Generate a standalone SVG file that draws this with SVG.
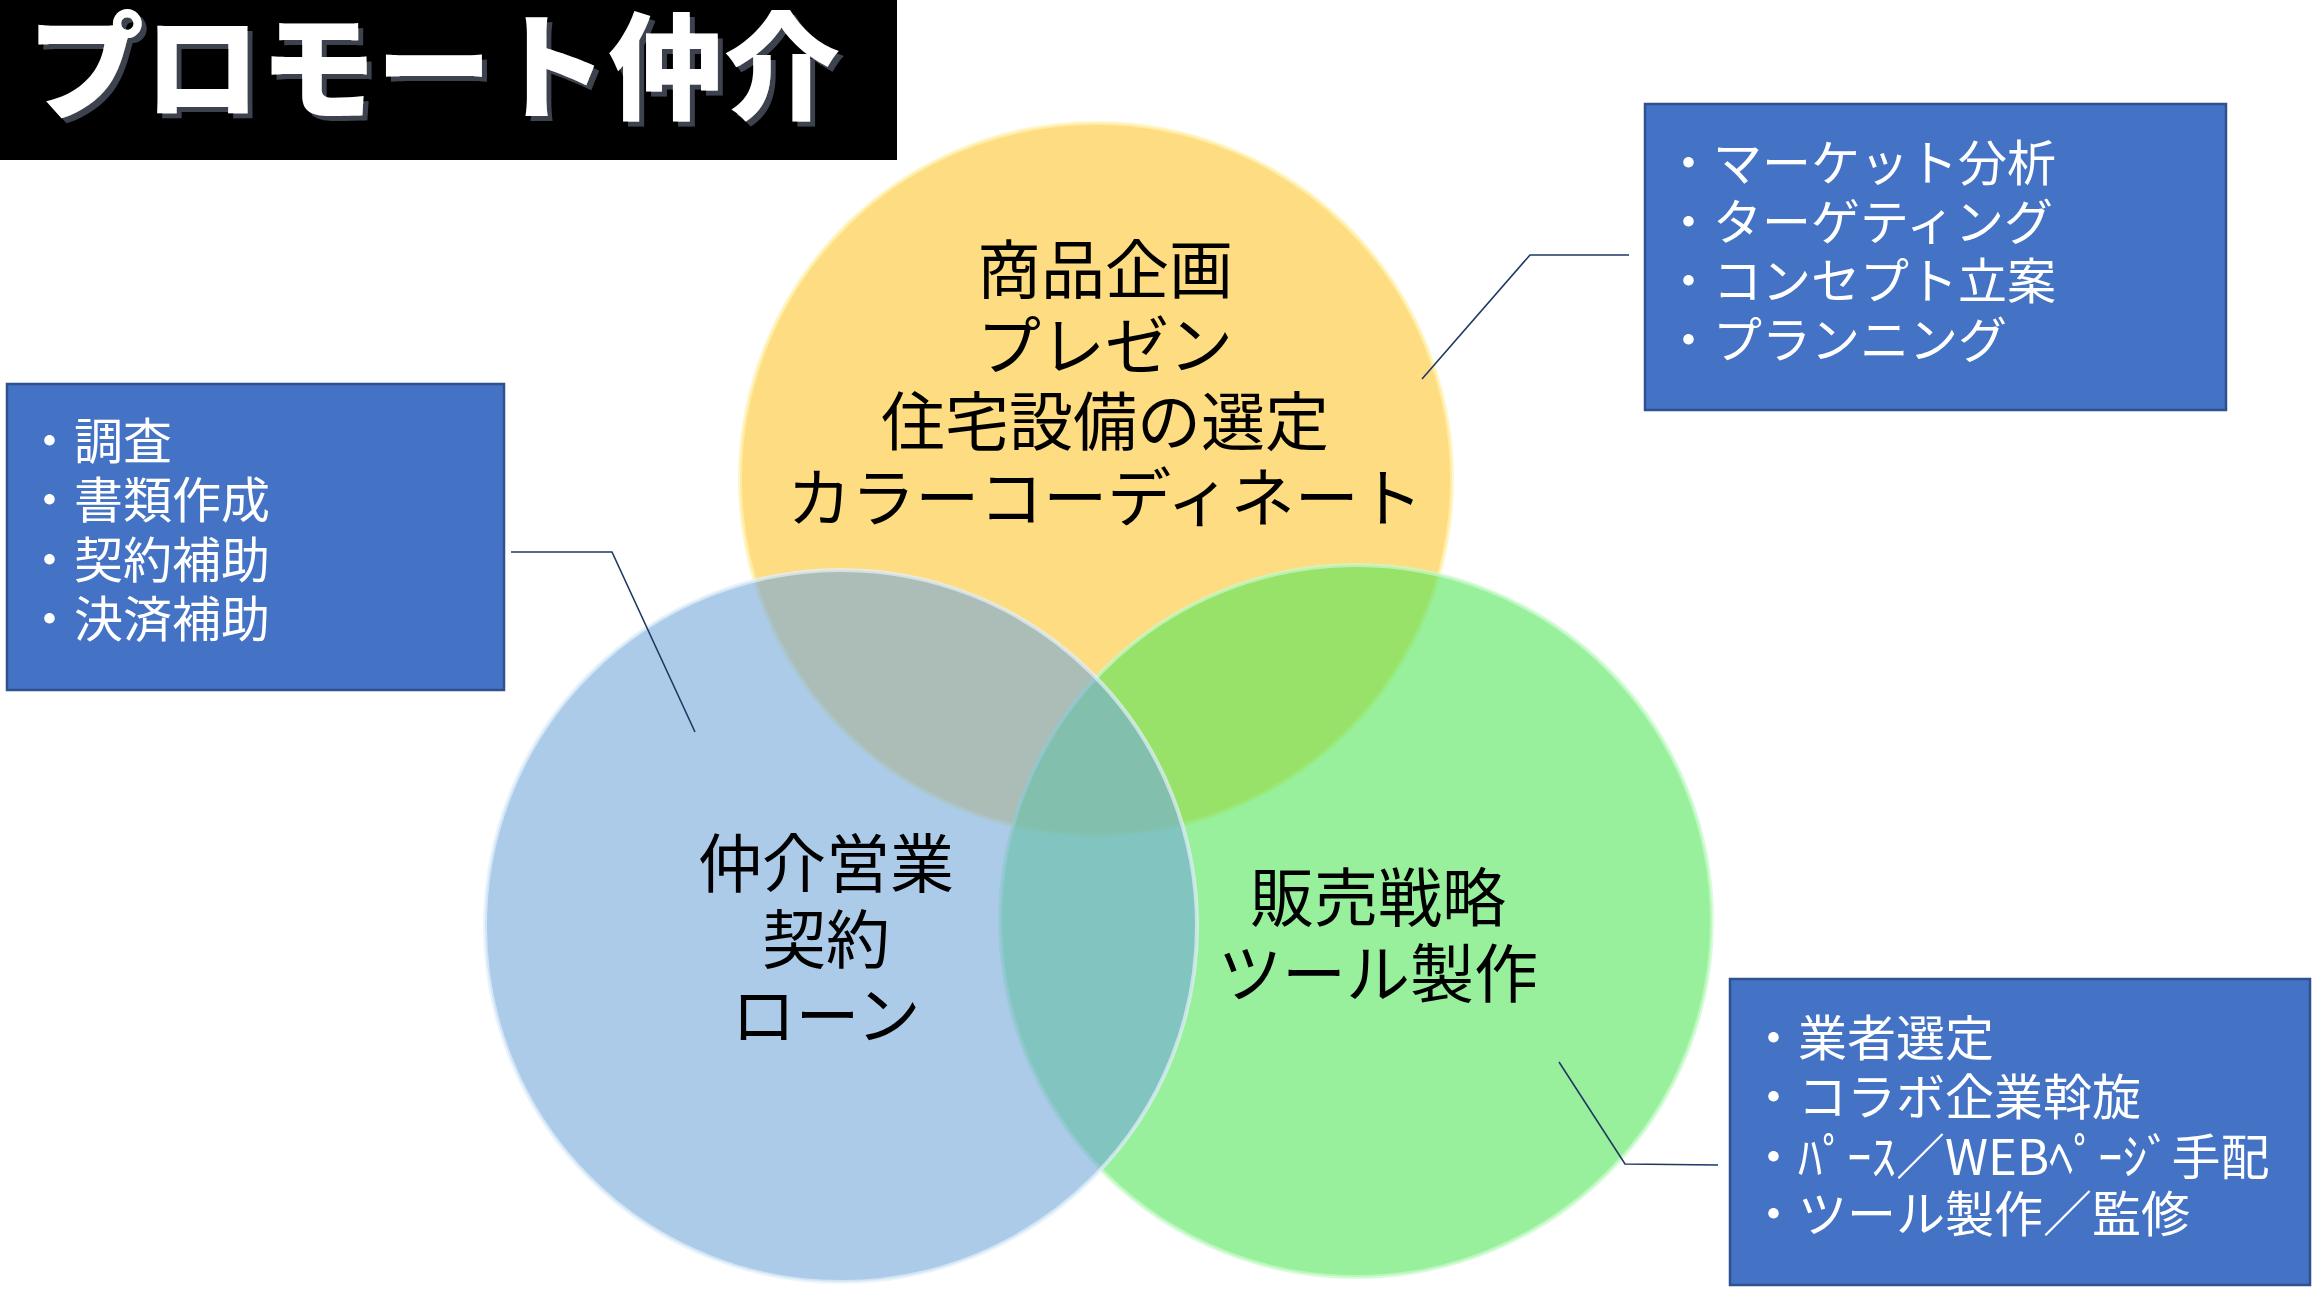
<svg xmlns="http://www.w3.org/2000/svg" width="2322" height="1312" viewBox="0 0 2322 1312">
  <defs>
    <style>
      .title { font-family: "Noto Sans CJK JP", sans-serif; font-weight: 900; font-size: 116px; fill: #fff; }
      .lbl { font-family: "Noto Sans CJK JP", sans-serif; font-size: 64px; fill: #000; text-anchor: middle; }
      .box { fill: #4472C4; stroke: #2F528F; stroke-width: 2.5; }
      .btxt { font-family: "Noto Sans CJK JP", sans-serif; font-size: 49px; fill: #fff; }
      .conn { fill: none; stroke: #1F3864; stroke-width: 1.6; }
      .circ { stroke-width: 4; }
    </style>
    <filter id="shadow" x="-5%" y="-20%" width="110%" height="140%">
      <feDropShadow dx="5" dy="5" stdDeviation="0.5" flood-color="#3E4350" flood-opacity="1"/>
    </filter>
  </defs>
  <rect width="2322" height="1312" fill="#fff"/>

  <g id="title">
    <rect x="0" y="0" width="897" height="160" fill="#000"/>
    <text class="title" x="28" y="110" filter="url(#shadow)">プロモート仲介</text>
  </g>

  <g id="circle-yellow">
    <circle class="circ" cx="1096" cy="479" r="356" fill="#FDC52F" fill-opacity="0.6" stroke="#FFF2B0" stroke-opacity="0.7"/>
  </g>
  <g id="circle-green">
    <circle class="circ" cx="1356" cy="921" r="356" fill="#53E65A" fill-opacity="0.6" stroke="#C8FACB" stroke-opacity="0.7"/>
  </g>
  <g id="circle-blue">
    <circle class="circ" cx="841" cy="926" r="356" fill="#73A8D9" fill-opacity="0.6" stroke="#E2F0FB" stroke-opacity="0.7"/>
  </g>

  <g id="label-yellow">
    <text class="lbl" x="1105" y="293">商品企画</text>
    <text class="lbl" x="1105" y="369">プレゼン</text>
    <text class="lbl" x="1105" y="445">住宅設備の選定</text>
    <text class="lbl" x="1105" y="521">カラーコーディネート</text>
  </g>
  <g id="label-blue">
    <text class="lbl" x="826" y="887">仲介営業</text>
    <text class="lbl" x="826" y="963">契約</text>
    <text class="lbl" x="826" y="1039">ローン</text>
  </g>
  <g id="label-green">
    <text class="lbl" x="1378" y="921">販売戦略</text>
    <text class="lbl" x="1378" y="997">ツール製作</text>
  </g>

  <g id="connectors">
    <polyline class="conn" points="1629,255 1530,255 1422,379"/>
    <polyline class="conn" points="511,552 612,552 695,732"/>
    <polyline class="conn" points="1559,1062 1625,1164 1718,1165"/>
  </g>

  <g id="box-top-right">
    <rect class="box" x="1645" y="104" width="581" height="306"/>
    <text class="btxt" x="1664" y="181">・マーケット分析</text>
    <text class="btxt" x="1664" y="240">・ターゲティング</text>
    <text class="btxt" x="1664" y="299">・コンセプト立案</text>
    <text class="btxt" x="1664" y="358">・プランニング</text>
  </g>
  <g id="box-left">
    <rect class="box" x="7" y="384" width="497" height="306"/>
    <text class="btxt" x="25" y="459">・調査</text>
    <text class="btxt" x="25" y="518">・書類作成</text>
    <text class="btxt" x="25" y="578">・契約補助</text>
    <text class="btxt" x="25" y="637">・決済補助</text>
  </g>
  <g id="box-bottom-right">
    <rect class="box" x="1730" y="979" width="580" height="306"/>
    <text class="btxt" x="1749" y="1056">・業者選定</text>
    <text class="btxt" x="1749" y="1115">・コラボ企業斡旋</text>
    <text class="btxt" x="1749" y="1175">・ﾊﾟｰｽ／WEBﾍﾟｰｼﾞ手配</text>
    <text class="btxt" x="1749" y="1232">・ツール製作／監修</text>
  </g>
</svg>
